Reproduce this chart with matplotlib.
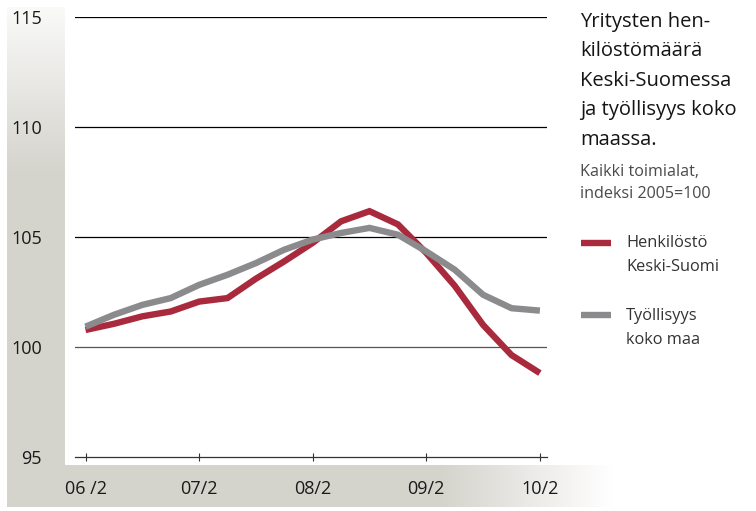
import numpy as np
import matplotlib
matplotlib.use("Agg")
import matplotlib.pyplot as plt

plt.rcParams['font.family'] = ['Open Sans', 'DejaVu Sans']

# quarterly index values, 2006/2 .. 2010/2 (2005=100)
quarters = np.arange(17)
henkilosto = [100.76, 101.04, 101.38, 101.60, 102.05, 102.21, 103.09, 103.88, 104.72,
              105.70, 106.16, 105.56, 104.26, 102.77, 100.99, 99.62, 98.80]
tyollisyys = [100.91, 101.45, 101.90, 102.21, 102.81, 103.27, 103.80, 104.41, 104.87,
              105.17, 105.40, 105.09, 104.33, 103.50, 102.36, 101.75, 101.64]
tick_pos = [0, 4, 8, 12, 16]
tick_labels = ["06 /2", "07/2", "08/2", "09/2", "10/2"]
y_ticks = [95, 100, 105, 110, 115]

RED = "#a82a3c"
GREY = "#8b8b8e"
BG = np.array([212, 211, 204]) / 255.0

W, H = 756, 511
fig = plt.figure(figsize=(W / 100, H / 100), dpi=100)

# background panels (left strip with vertical fade, bottom strip fading right)
bg = fig.add_axes([0, 0, 1, 1])
img = np.ones((H, W, 3))
yy = np.arange(H)[:, None]
xx = np.arange(W)[None, :]
a_left = np.clip(0.12 + (yy - 7) / 190.0, 0, 1) * ((xx >= 7) & (xx < 65)) * ((yy >= 7) & (yy < 507))
a_bot = np.clip((612 - xx) / 172.0, 0, 1) * ((xx >= 7)) * ((yy >= 465) & (yy < 507))
alpha = np.maximum(a_left, a_bot)[..., None]
img = img * (1 - alpha) + BG[None, None, :] * alpha
bg.imshow(img, extent=(0, W, H, 0), aspect='auto', interpolation='bilinear')
bg.set_xlim(0, W)
bg.set_ylim(H, 0)
bg.axis('off')

ax = fig.add_axes([75 / W, 1 - 456.7 / H, (547 - 75) / W, (456.7 - 16.7) / H])
ax.patch.set_alpha(0)

for v in [100, 105, 110, 115]:
    ax.axhline(v, color="#555555" if v == 100 else "black", lw=0.9, zorder=1)

ax.plot(quarters, tyollisyys, color=GREY, lw=4.6, solid_capstyle='butt', solid_joinstyle='miter', zorder=3)
ax.plot(quarters, henkilosto, color=RED, lw=4.6, solid_capstyle='butt', solid_joinstyle='miter', zorder=2)

ax.set_xlim(-0.37, 16.25)
ax.set_ylim(95, 115)
for s in ['top', 'right', 'left']:
    ax.spines[s].set_visible(False)
ax.spines['bottom'].set_color('#333333')
ax.spines['bottom'].set_linewidth(0.9)
ax.set_xticks(tick_pos)
ax.set_xticklabels(tick_labels, fontsize=13, color='#1a1a1a')
ax.tick_params(axis='x', direction='inout', length=6, width=0.8, color='#333333', pad=14)
ax.set_yticks(y_ticks)
ax.set_yticklabels([str(v) for v in y_ticks], fontsize=13, color='#1a1a1a')
ax.tick_params(axis='y', length=0, pad=24)

# title and legend on the right
tx = 580 / W
title_lines = ["Yritysten hen-", "kilöstömäärä", "Keski-Suomessa", "ja työllisyys koko", "maassa."]
for i, t in enumerate(title_lines):
    fig.text(tx, 1 - (22 + 29.5 * i) / H, t, fontsize=14.5, color='#151515', va='center', ha='left')
fig.text(tx, 1 - 172 / H, "Kaikki toimialat,", fontsize=11.6, color='#4a4a4a', va='center')
fig.text(tx, 1 - 194 / H, "indeksi 2005=100", fontsize=11.6, color='#4a4a4a', va='center')

for y0, col, l1, l2 in [(243, RED, "Henkilöstö", "Keski-Suomi"), (315.5, GREY, "Työllisyys", "koko maa")]:
    bg.plot([581, 611], [y0, y0], color=col, lw=4.6, solid_capstyle='butt')
    bg.text(626, y0, l1, fontsize=11.8, color='#333333', va='center')
    bg.text(626, y0 + 24, l2, fontsize=11.8, color='#333333', va='center')

fig.savefig("out.png", dpi=100)
